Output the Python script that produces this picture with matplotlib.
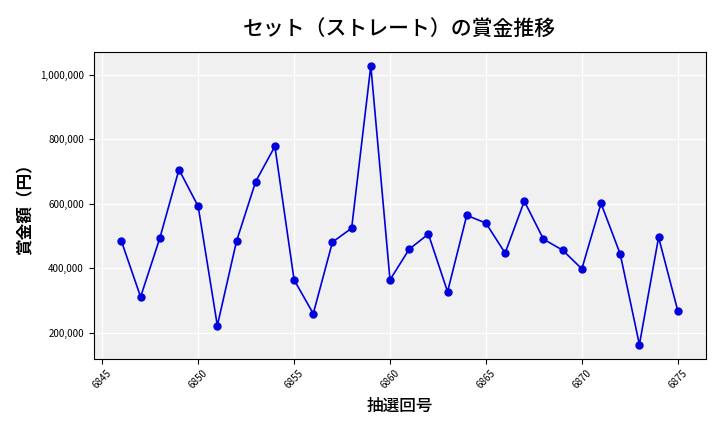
import matplotlib
matplotlib.use("Agg")
import matplotlib.pyplot as plt
from matplotlib.ticker import FuncFormatter

plt.rcParams['font.family'] = ['Noto Sans CJK JP', 'DejaVu Sans']

draws = list(range(6846, 6876))
prize = [484000, 311000, 493000, 706000, 592000, 222000, 484000, 669000, 778000, 364000,
         259000, 481000, 524000, 1028000, 364000, 459000, 506000, 327000, 564000, 540000,
         447000, 608000, 490000, 456000, 398000, 601000, 444000, 163000, 496000, 268000]

fig, ax = plt.subplots(figsize=(7.2, 4.32), dpi=100)
ax.set_facecolor('#f0f0f0')
ax.grid(True, color='white', linewidth=1)
ax.set_axisbelow(True)
ax.plot(draws, prize, color='#0000dd', marker='o', markersize=5, linewidth=1.2)
ax.set_title('セット（ストレート）の賞金推移', fontsize=15, fontweight='medium', pad=12)
ax.set_xlabel('抽選回号', fontsize=12, fontweight='medium')
ax.set_ylabel('賞金額（円）', fontsize=12, fontweight='bold')
ax.yaxis.set_major_formatter(FuncFormatter(lambda v, p: f'{int(v):,}'))
ax.set_xticks(range(6845, 6880, 5))
ax.tick_params(axis='x', labelrotation=45, labelsize=7)
ax.tick_params(axis='y', labelsize=7)
fig.subplots_adjust(left=0.13, right=0.98, top=0.88, bottom=0.17)
fig.savefig('out.png')
